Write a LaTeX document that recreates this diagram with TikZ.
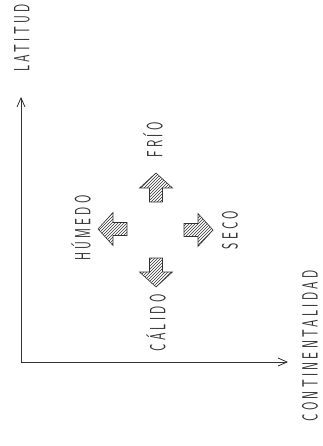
\documentclass[tikz,border=0pt]{standalone}
\usepackage{fontspec}
\usepackage{graphicx}
\usetikzlibrary{arrows.meta,patterns}
\definecolor{ink}{HTML}{333333}
\newfontfamily\handfont[LetterSpace=27]{Latin Modern Sans}
\newcommand\handtxt[1]{\scalebox{0.55}[1]{\fontsize{22}{22}\selectfont\handfont #1}}
\tikzset{
  lbl/.style={rotate=90, inner sep=0pt, text=ink},
  axis/.style={draw=ink, line width=0.8pt, -{Straight Barb[length=9pt,width=8pt]}},
  pics/blockarrow/.style={code={
    \draw[ink, line width=0.6pt, pattern=north east lines, pattern color=ink]
      (0,-6.5)--(14,-6.5)--(14,-16.5)--(29,0)--(14,16.5)--(14,6.5)--(0,6.5)--cycle;
  }}
}
\begin{document}
\begin{tikzpicture}[x=1pt,y=-1pt]
\useasboundingbox (0,0) rectangle (323,446);
\coordinate (o) at (21,362);
\coordinate (ytop) at (21,97);
\coordinate (xend) at (288,362);
\draw[axis] (o) -- (ytop);
\draw[axis] (o) -- (xend);
\node[lbl] (lat) at (22,38) {\handtxt{LATITUD}};
\node[lbl] (cont) at (310,346) {\handtxt{CONTINENTALIDAD}};
\node[lbl] (frio) at (153,140) {\handtxt{FRÍO}};
\node[lbl] (hum) at (81,228) {\handtxt{HÚMEDO}};
\node[lbl] (seco) at (230,230) {\handtxt{SECO}};
\node[lbl] (cal) at (156,323) {\handtxt{CÁLIDO}};
\pic[rotate=90] (aup) at (156,202) {blockarrow};
\pic[rotate=180] (aleft) at (127,229) {blockarrow};
\pic[rotate=0] (aright) at (184,230) {blockarrow};
\pic[rotate=-90] (adown) at (156,258) {blockarrow};
\end{tikzpicture}
\end{document}
